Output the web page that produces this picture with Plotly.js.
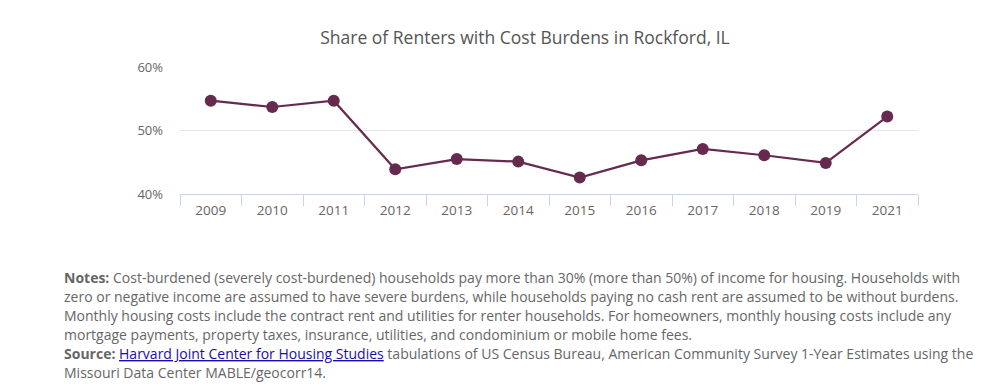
<!DOCTYPE html>
<html>
<head>
<meta charset="utf-8">
<script src="https://cdn.plot.ly/plotly-3.0.1.min.js"></script>
<style>html,body{margin:0;padding:0;background:#fff}#chart{width:992px;height:390px}</style>
</head>
<body>
<div id="chart"></div>
<script>
const years = ["2009","2010","2011","2012","2013","2014","2015","2016","2017","2018","2019","2021"];
const shareCostBurdened = [54.7, 53.7, 54.7, 43.9, 45.5, 45.1, 42.6, 45.3, 47.1, 46.1, 44.9, 52.2];
const yTickVals = [40, 50, 60];
const yTickText = ["40%", "50%", "60%"];
const chartTitle = "Share of Renters with Cost Burdens in Rockford, IL";
const notesLines = [
  "<b>Notes:</b> Cost-burdened (severely cost-burdened) households pay more than 30% (more than 50%) of income for housing. Households with",
  "zero or negative income are assumed to have severe burdens, while households paying no cash rent are assumed to be without burdens.",
  "Monthly housing costs include the contract rent and utilities for renter households. For homeowners, monthly housing costs include any",
  "mortgage payments, property taxes, insurance, utilities, and condominium or mobile home fees.",
  "<b>Source:</b> <a href=\"https://www.jchs.harvard.edu/\" style=\"color:#1a0dab;text-decoration:underline\">Harvard Joint Center for Housing Studies</a> tabulations of US Census Bureau, American Community Survey 1-Year Estimates using the",
  "Missouri Data Center MABLE/geocorr14."
];

const W = 992, H = 390;
const M = {l: 180, r: 74, t: 67, b: 196};
const pw = W - M.l - M.r, ph = H - M.t - M.b;
const px = x => (x - M.l) / pw;
const py = y => (H - M.b - y) / ph;

const trace = {
  x: years,
  y: shareCostBurdened,
  type: "scatter",
  mode: "lines+markers",
  line: {color: "#662a4f", width: 2.2},
  marker: {color: "#662a4f", size: 12},
  hoverinfo: "x+y"
};

const noteAnns = notesLines.map((t, i) => ({
  xref: "paper", yref: "paper",
  x: px(62), y: py(277 + i * 19),
  xanchor: "left", yanchor: "middle", align: "left",
  showarrow: false,
  text: t,
  font: {size: 14, color: "#666", family: "'Open Sans', sans-serif"}
}));

const layout = {
  width: W, height: H,
  margin: M,
  paper_bgcolor: "#fff", plot_bgcolor: "#fff",
  showlegend: false,
  font: {family: "'Open Sans', sans-serif", color: "#666"},
  title: {text: chartTitle, font: {size: 17.5, color: "#555", family: "'Open Sans', sans-serif"},
          x: 525 / W, xanchor: "center", y: 1 - 38 / H, yanchor: "middle"},
  xaxis: {
    type: "category",
    range: [-0.5, years.length - 0.5],
    showgrid: false,
    showline: true, linecolor: "#ccd6eb", linewidth: 1,
    ticks: "outside", tickson: "boundaries", ticklen: 11, tickcolor: "#ccd6eb",
    ticklabelstandoff: 4,
    tickfont: {size: 13.5, color: "#666"},
    fixedrange: true
  },
  yaxis: {
    range: [40, 60],
    tickvals: yTickVals, ticktext: yTickText,
    showgrid: true, gridcolor: "#e6e6e6", gridwidth: 1,
    zeroline: false, showline: false,
    ticks: "", ticklabelstandoff: 16,
    tickfont: {size: 13, color: "#666"},
    fixedrange: true
  },
  annotations: noteAnns
};

Plotly.newPlot("chart", [trace], layout, {displayModeBar: false});
</script>
</body>
</html>
